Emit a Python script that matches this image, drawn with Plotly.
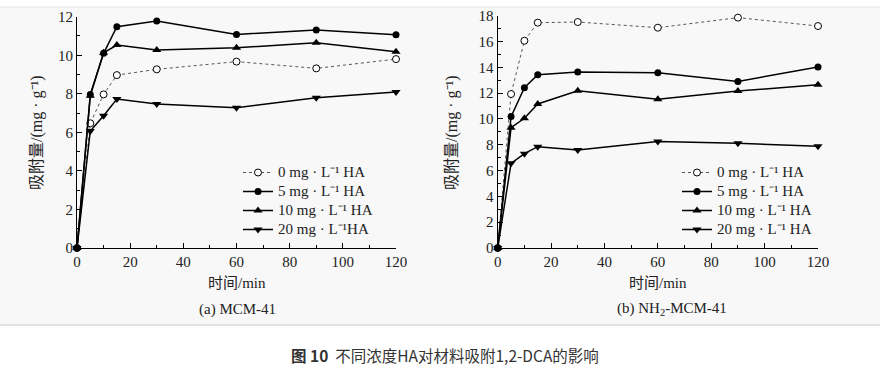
import plotly.graph_objects as go

times = [0, 5, 10, 15, 30, 60, 90, 120]
series_names = ["0 mg · L⁻¹ HA", "5 mg · L⁻¹ HA",
                "10 mg · L⁻¹ HA", "20 mg · L⁻¹HA"]
series_names_b = ["0 mg · L⁻¹ HA", "5 mg · L⁻¹ HA",
                  "10 mg · L⁻¹ HA", "20 mg · L⁻¹ HA"]

# (a) MCM-41
a_0 = [0, 6.47, 7.97, 8.97, 9.27, 9.67, 9.32, 9.80]
a_5 = [0, 7.97, 10.10, 11.48, 11.78, 11.08, 11.31, 11.07]
a_10 = [0, 7.9, 10.13, 10.53, 10.27, 10.39, 10.65, 10.18]
a_20 = [0, 6.07, 6.86, 7.73, 7.47, 7.28, 7.80, 8.09]

# (b) NH2-MCM-41
b_0 = [0, 11.93, 16.06, 17.46, 17.51, 17.07, 17.85, 17.20]
b_5 = [0, 10.18, 12.42, 13.43, 13.64, 13.58, 12.91, 14.02]
b_10 = [0, 9.32, 10.05, 11.16, 12.19, 11.52, 12.16, 12.65]
b_20 = [0, 6.56, 7.31, 7.85, 7.59, 8.26, 8.11, 7.88]

SERIF = "Liberation Serif, Noto Sans CJK SC, serif"

styles = [
    dict(line=dict(color="#555555", width=1, dash="dot"),
         marker=dict(symbol="circle", size=7, color="white", line=dict(color="black", width=1))),
    dict(line=dict(color="black", width=1.5),
         marker=dict(symbol="circle", size=7, color="black")),
    dict(line=dict(color="black", width=1.5),
         marker=dict(symbol="triangle-up", size=8, color="black")),
    dict(line=dict(color="black", width=1.5),
         marker=dict(symbol="triangle-down", size=8, color="black")),
]


def big(s):
    return '<span style="font-size:15px">' + s + '</span>'


fig = go.Figure()
for name, ys, st in zip(series_names, [a_0, a_5, a_10, a_20], styles):
    fig.add_trace(go.Scatter(x=times, y=ys, name=big(name), mode="lines+markers",
                             xaxis="x", yaxis="y", legend="legend",
                             cliponaxis=False, **st))
for name, ys, st in zip(series_names_b, [b_0, b_5, b_10, b_20], styles):
    fig.add_trace(go.Scatter(x=times, y=ys, name=big(name), mode="lines+markers",
                             xaxis="x2", yaxis="y2", legend="legend2",
                             cliponaxis=False, **st))

axis_common = dict(showgrid=False, zeroline=False, showline=True, linecolor="black",
                   linewidth=1.2, ticks="inside", ticklen=5, tickcolor="black",
                   automargin=False,
                   tickfont=dict(family=SERIF, size=15, color="#222"))

TXT = dict(family=SERIF, size=15, color="#222")


def note(text, x, y, **kw):
    d = dict(text=text, x=x / 880, y=(367 - y) / 367, xref="paper", yref="paper",
             xanchor="center", yanchor="middle", showarrow=False, font=TXT)
    d.update(kw)
    return d


y_bottom = (367 - 248) / 367
fig.update_layout(
    width=880, height=367,
    margin=dict(l=0, r=0, t=0, b=0, autoexpand=False),
    paper_bgcolor="white", plot_bgcolor="rgba(0,0,0,0)",
    showlegend=True,
    xaxis=dict(domain=[77 / 880, 396 / 880], range=[0, 120], dtick=20,
               minor=dict(dtick=10, ticks="inside", ticklen=3, tickcolor="black"),
               anchor="y", **axis_common),
    yaxis=dict(domain=[y_bottom, (367 - 16.7) / 367], range=[0, 12], dtick=2,
               minor=dict(dtick=1, ticks="inside", ticklen=3, tickcolor="black"),
               anchor="x", **axis_common),
    xaxis2=dict(domain=[497.7 / 880, 818 / 880], range=[0, 120], dtick=20,
                minor=dict(dtick=10, ticks="inside", ticklen=3, tickcolor="black"),
                anchor="y2", **axis_common),
    yaxis2=dict(domain=[y_bottom, (367 - 15.7) / 367], range=[0, 18], dtick=2,
                minor=dict(dtick=1, ticks="inside", ticklen=3, tickcolor="black"),
                anchor="x2", **axis_common),
    legend=dict(x=238 / 880, y=(367 - 158) / 367, xanchor="left", yanchor="top",
                bgcolor="rgba(0,0,0,0)", font=dict(family=SERIF, size=12, color="#222"),
                tracegroupgap=0, itemwidth=30),
    legend2=dict(x=677 / 880, y=(367 - 158) / 367, xanchor="left", yanchor="top",
                 bgcolor="rgba(0,0,0,0)", font=dict(family=SERIF, size=12, color="#222"),
                 tracegroupgap=0, itemwidth=30),
    shapes=[
        dict(type="rect", xref="paper", yref="paper", x0=0, x1=1,
             y0=(367 - 325) / 367, y1=(367 - 7) / 367,
             fillcolor="#f8f8f8", line=dict(width=0), layer="below"),
        dict(type="line", xref="paper", yref="paper", x0=0, x1=1,
             y0=(367 - 7) / 367, y1=(367 - 7) / 367, line=dict(color="#dfe5e5", width=1)),
        dict(type="line", xref="paper", yref="paper", x0=0, x1=1,
             y0=(367 - 325) / 367, y1=(367 - 325) / 367, line=dict(color="#d5dcdc", width=1.5)),
    ],
    annotations=[
        note("时间/min", 237, 283),
        note("时间/min", 658, 283),
        note("吸附量/(mg · g⁻¹)", 37, 133, textangle=-90,
             font=dict(family=SERIF, size=16, color="#222")),
        note("吸附量/(mg · g⁻¹)", 452, 133, textangle=-90,
             font=dict(family=SERIF, size=16, color="#222")),
        note("(a) MCM-41", 237, 309),
        note("(b) NH<sub>2</sub>-MCM-41", 672, 309),
        note("<b>图 10</b>  不同浓度HA对材料吸附1,2-DCA的影响", 445, 355,
             font=dict(family="Noto Sans CJK SC, Noto Sans, sans-serif", size=15.5, color="#333")),
    ],
)

fig.write_html("out.html", config={"displayModeBar": False},
               post_script="document.body.style.margin='0';document.body.style.padding='0';")
